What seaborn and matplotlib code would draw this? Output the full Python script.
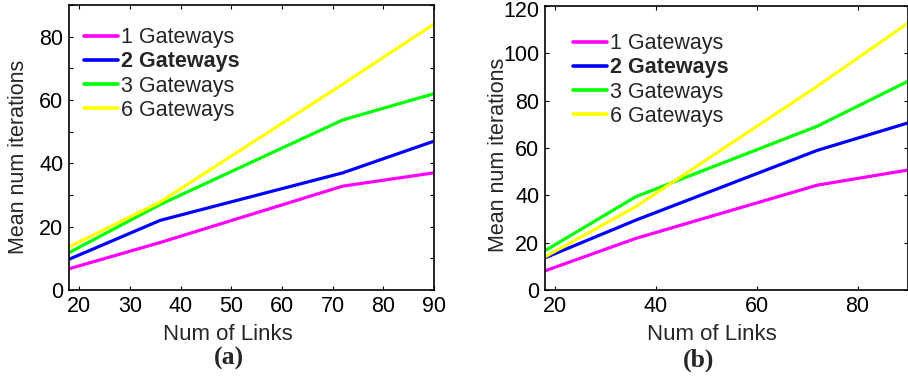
import numpy as np
import pandas as pd
import matplotlib
matplotlib.use("Agg")
import matplotlib.pyplot as plt
import matplotlib.transforms as mtrans
import seaborn as sns

# ---- data ----
links = [18, 36, 72, 90]
series_names = ["1 Gateways", "2 Gateways", "3 Gateways", "6 Gateways"]
a_g1 = [6.7, 15.0, 32.8, 37.0]
a_g2 = [9.7, 22.0, 37.0, 47.0]
a_g3 = [11.8, 27.0, 53.7, 62.0]
a_g6 = [13.6, 27.8, 65.0, 84.0]
b_g1 = [8.1, 21.8, 44.3, 50.7]
b_g2 = [13.6, 29.5, 59.0, 70.6]
b_g3 = [16.6, 39.4, 69.2, 88.2]
b_g6 = [14.0, 35.2, 86.1, 112.8]
colors = ["#FF00FF", "#0000FF", "#00FF00", "#FFFF00"]
a_xticks = [20, 30, 40, 50, 60, 70, 80, 90]
a_yticks = [0, 10, 20, 30, 40, 50, 60, 70, 80, 90]
b_xticks = [20, 40, 60, 80]
b_yticks = [0, 20, 40, 60, 80, 100, 120]

sns.set_style("ticks")
plt.rcParams['font.family'] = ['Liberation Sans', 'DejaVu Sans']

def make_df(vals):
    rows = []
    for name, v in zip(series_names, vals):
        for x, y in zip(links, v):
            rows.append({"links": x, "iter": y, "series": name})
    return pd.DataFrame(rows)

df_a = make_df([a_g1, a_g2, a_g3, a_g6])
df_b = make_df([b_g1, b_g2, b_g3, b_g6])

W, H = 908, 379
fig = plt.figure(figsize=(W / 100, H / 100), dpi=100)
ax_a = fig.add_axes([69 / W, 1 - 290 / H, 365 / W, 285 / H])
ax_b = fig.add_axes([545 / W, 1 - 290 / H, 363 / W, 284 / H])

pal = dict(zip(series_names, colors))
FS = 15.5

def style(ax, df, xt, yt, ylim, ylabels, leg_xy):
    sns.lineplot(data=df, x="links", y="iter", hue="series", palette=pal,
                 hue_order=series_names, linewidth=2.3, ax=ax, legend=True)
    ax.set_xlim(18, 90)
    ax.set_ylim(*ylim)
    ax.set_xticks(xt)
    ax.set_yticks(yt)
    ax.set_yticklabels([str(v) if v in ylabels else "" for v in yt])
    ax.set_xlabel("")
    ax.set_ylabel("")
    ax.tick_params(direction="in", length=3, width=0.8, top=True, right=True,
                   labelsize=FS, colors="black", pad=4)
    for s in ax.spines.values():
        s.set_visible(True)
        s.set_color("black")
        s.set_linewidth(1.2)
    handles, labels = ax.get_legend_handles_labels()
    leg = ax.legend(handles, labels, loc="upper left", bbox_to_anchor=leg_xy,
                    frameon=False, fontsize=FS, handlelength=1.6,
                    handletextpad=0.1, labelspacing=0.15, borderpad=0,
                    borderaxespad=0)
    for t in leg.get_texts():
        if t.get_text().startswith("2"):
            t.set_fontweight("bold")
    for l in leg.get_lines():
        l.set_linewidth(2.6)

style(ax_a, df_a, a_xticks, a_yticks, (0, 90), [0, 20, 40, 60, 80], (0.041, 0.922))
style(ax_b, df_b, b_xticks, b_yticks, (0, 120), b_yticks, (0.077, 0.904))

# keep the top tick label of (b) inside the figure
fig.canvas.draw()
for lab in ax_b.get_yticklabels():
    if lab.get_text() == "120":
        lab.set_transform(lab.get_transform() +
                          mtrans.ScaledTranslation(0, -3 / 100, fig.dpi_scale_trans))

fig.text(228 / W, 1 - 335 / H, "Num of Links", ha="center", va="center", fontsize=FS + 0.5)
fig.text(712 / W, 1 - 335 / H, "Num of Links", ha="center", va="center", fontsize=FS + 0.5)
fig.text(19 / W, 1 - 157 / H, "Mean num iterations", ha="center", va="center",
         rotation=90, fontsize=FS)
fig.text(498 / W, 1 - 155 / H, "Mean num iterations", ha="center", va="center",
         rotation=90, fontsize=FS)
fig.text(229 / W, 1 - 358 / H, "(a)", ha="center", va="center", fontsize=18.5,
         fontweight="bold", family=["Liberation Serif", "DejaVu Serif"])
fig.text(699 / W, 1 - 360 / H, "(b)", ha="center", va="center", fontsize=18.5,
         fontweight="bold", family=["Liberation Serif", "DejaVu Serif"])

fig.savefig("out.png", dpi=100)
